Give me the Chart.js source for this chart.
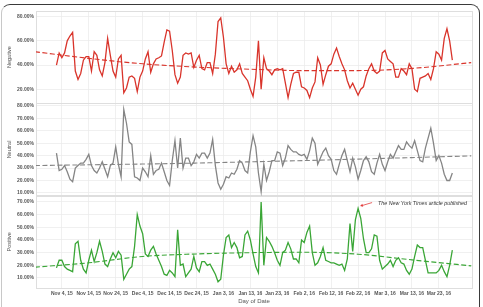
<!DOCTYPE html>
<html><head><meta charset="utf-8">
<script src="https://cdn.jsdelivr.net/npm/chart.js@4.4.0/dist/chart.umd.min.js"></script>
<style>
html,body{margin:0;padding:0;background:#fff;width:483px;height:307px;overflow:hidden}
#wrap{position:relative;width:483px;height:307px}
#frame{position:absolute;left:1px;top:4px;width:477px;height:330px;border-top:1.5px solid #3a3a3a;border-right:1.5px solid #3a3a3a;border-left:1px solid #c8c8c8;border-radius:9px 9px 0 0;pointer-events:none}
canvas{position:absolute;left:0;top:0}
</style></head><body>
<div id="wrap"><canvas id="c" width="483" height="307"></canvas><div id="frame"></div></div>
<script>
// Day index 0 = Nov 4, 2015; first data point is Nov 2, 2015 (day -2)
const firstDay = -2;
const tickLabels = ["Nov 4, 15","Nov 14, 15","Nov 24, 15","Dec 4, 15","Dec 14, 15","Dec 24, 15","Jan 3, 16","Jan 13, 16","Jan 23, 16","Feb 2, 16","Feb 12, 16","Feb 22, 16","Mar 3, 16","Mar 13, 16","Mar 23, 16"];

const negative = [40,50,46,50,60,64,67,35,28,33,44,47,
 47,35,51,48,36,31,42,62,48,35,
 30,45,48,17,21,30,31,29,18,30,
 35,45,51,34,41,45,46,47.5,59,69,
 68,52,32,25,30,48,50,49,50,38,
 44,48,37,36,42,42,33,49,76,79,
 63,41,33,39,34,36,41,33,30,27,
 20,14,30,60,20,46,37,35,32,36,
 37,36,37,25,13,24,33,34,34,22,
 21,19,13,21,26,46,40,24,32,39,
 41,49,54,47,41,36,27,21,25,20,
 15,20,22,31,37,41,35,33,35,50,
 52,45,43,41,30,30,37,35,32,41,
 37,20,18,29,30,31,33,28,37,51,
 49,44,62,70,60,44];

const neutral = [42,28,29,32,27,21,19,30,32,34,34,37,
 41,32,28,26,30,35,29,23,32,34,
 47,33,23,77,66,51,49,23,22,20,
 30,27,23,40,25,28,29,34,27,20,
 16,36,52,30,54,30,38,38,32,35,
 41,38,42,42,38,42,53,32,18,13,
 17,23,22,26,25,29,36,34,28,26,
 43,56,47,26,11,33,20,27,36,36,
 43,42,32,38,48,45,43,43,41,40,
 41,37,44,54,50,33,38,43,46,40,
 37,28,25,33,40,45,36,27,38,31,
 21,28,36,39,35,27,25,34,41,33,
 28,35,41,38,43,48,45,45,51,48,
 46,52,44,36,35,46,54,62,50,36,
 40,34,25,20,20,26];

const positive = [18,24,24,19,17,16,15,37,39,24,17,14,
 24,32,23,30,39,31,21,19,25,30,
 26,31,28,9,13,17,19,35,60,51,
 45,29,27,32,35,29,24,19,13,12,
 16,14,11,48,20,21,11,14,17,27,
 18,15,23,23,20,21,17,13,7,9,
 28,42,44,34,38,34,26,27,44,47,
 40,29,19,14,70,20,42,39,35,30,
 24,20,30,32,38,33,25,25,22,40,
 38,46,51,30,20,22,27,34,24,23,
 22,22,21,20,21,16,25,53,31,56,
 65,57,41,30,30,33,44,43,24,17,
 19,21,24,19,24,26,22,21,16,13,
 17,27,36,34,34,24,14,14,14,14,
 16,20,15,11,20,32];

// trend curves
const trendDays = [-10,10,30,50,70,90,110,130,152];
const negativeTrend = [51,45.5,41,38.3,36.5,35.4,35.4,37.2,42];
const neutralTrend  = [32,32.6,33.2,34,35,36,37.2,38.4,39.8];
const positiveTrend = [18.5,22,27,29,30,30.3,28.8,24.3,19.6];

const annotation = {day:110, value:66, text:'The New York Times article published'};

const RED='#d9342b', GRAY='#858585', GREEN='#3aa636';
const FONT='"Liberation Sans", Arial, sans-serif';
const tickFont={family:FONT,size:5,weight:'bold'};

const toPts = arr => arr.map((v,i)=>({x:firstDay+i,y:v}));
const toTrend = arr => arr.map((v,i)=>({x:trendDays[i],y:v}));

function yScale(min,max,step,title){
  return {
    type:'linear', position:'left', stack:'panels', stackWeight:1,
    min:min, max:max, border:{display:false},
    grid:{color:'#ececec', lineWidth:0.8, drawTicks:false},
    ticks:{stepSize:step, includeBounds:false, autoSkip:false, padding:2, color:'#555', font:tickFont,
      callback:v=>v.toFixed(2)+'%'},
    title:{display:true, text:title, color:'#555', font:{family:FONT,size:5.5}, padding:{top:6.5,bottom:0}},
    afterFit:s=>{s.width=36;}
  };
}

function lineDs(arr,color,axis){
  return {data:toPts(arr), borderColor:color, borderWidth:1.3, pointRadius:0, tension:0, fill:false, yAxisID:axis};
}
function trendDs(arr,color,axis){
  return {data:toTrend(arr), borderColor:color, borderWidth:1.1, borderDash:[5,2.5], pointRadius:0,
    cubicInterpolationMode:'monotone', fill:false, yAxisID:axis};
}

const panelBorders = {
  id:'panelBorders',
  beforeDatasetsDraw(chart){
    const ctx=chart.ctx, a=chart.chartArea;
    ctx.save(); ctx.strokeStyle='#dedede'; ctx.lineWidth=1;
    ['yNeg','yNeu','yPos'].forEach(id=>{
      const s=chart.scales[id];
      ctx.strokeRect(Math.round(a.left)+0.5, Math.round(s.top)+0.5, Math.round(a.right-a.left), Math.round(s.bottom-s.top));
    });
    ctx.restore();
  }
};

const annot = {
  id:'annot',
  afterDatasetsDraw(chart){
    const ctx=chart.ctx;
    const x=chart.scales.x.getPixelForValue(annotation.day);
    const y=chart.scales.yPos.getPixelForValue(annotation.value);
    const hx=x+2, hy=y-1, tx=x+14, ty=y-4.5;
    ctx.save();
    ctx.strokeStyle='#e23b3b'; ctx.fillStyle='#e23b3b'; ctx.lineWidth=0.8;
    ctx.beginPath(); ctx.moveTo(tx,ty); ctx.lineTo(hx+2,hy-0.5); ctx.stroke();
    const ang=Math.atan2(hy-ty,hx-tx);
    ctx.beginPath(); ctx.moveTo(hx,hy);
    ctx.lineTo(hx-3.2*Math.cos(ang-0.5), hy-3.2*Math.sin(ang-0.5));
    ctx.lineTo(hx-3.2*Math.cos(ang+0.5), hy-3.2*Math.sin(ang+0.5));
    ctx.closePath(); ctx.fill();
    ctx.fillStyle='#333'; ctx.font='italic 5.3px '+FONT; ctx.textBaseline='middle'; ctx.textAlign='left';
    ctx.fillText(annotation.text, x+20, y-3.5);
    ctx.restore();
  }
};

new Chart(document.getElementById('c'),{
  type:'line',
  data:{datasets:[
    lineDs(negative,RED,'yNeg'), lineDs(neutral,GRAY,'yNeu'), lineDs(positive,GREEN,'yPos'),
    trendDs(negativeTrend,RED,'yNeg'), trendDs(neutralTrend,GRAY,'yNeu'), trendDs(positiveTrend,GREEN,'yPos')
  ]},
  options:{
    responsive:false, animation:false, devicePixelRatio:1,
    layout:{padding:{left:0,right:11,top:11,bottom:0}},
    plugins:{legend:{display:false}, tooltip:{enabled:false}},
    scales:{
      x:{type:'linear', position:'bottom', min:-9.6, max:152.3, border:{display:false},
        grid:{color:c=>(c.tick && c.tick.value>=0 && c.tick.value<=140)?'#ececec':'rgba(0,0,0,0)', lineWidth:0.8, drawTicks:false},
        ticks:{stepSize:10, includeBounds:false, autoSkip:false, maxRotation:0, padding:2.5, color:'#555', font:tickFont,
          callback:v=>{const i=v/10; return (Number.isInteger(i)&&i>=0&&i<tickLabels.length)?tickLabels[i]:'';}},
        title:{display:true, text:'Day of Date', color:'#555', font:{family:FONT,size:6}, padding:{top:0,bottom:2.5}},
        afterFit:s=>{s.height=19;}
      },
      // stacked axes are laid out bottom-up in definition order
      yPos:yScale(2.1,75,10,'Positive'),
      yNeu:yScale(7.8,82,10,'Neutral'),
      yNeg:yScale(8.3,84.7,20,'Negative')
    }
  },
  plugins:[panelBorders, annot]
});
</script>
</body></html>
